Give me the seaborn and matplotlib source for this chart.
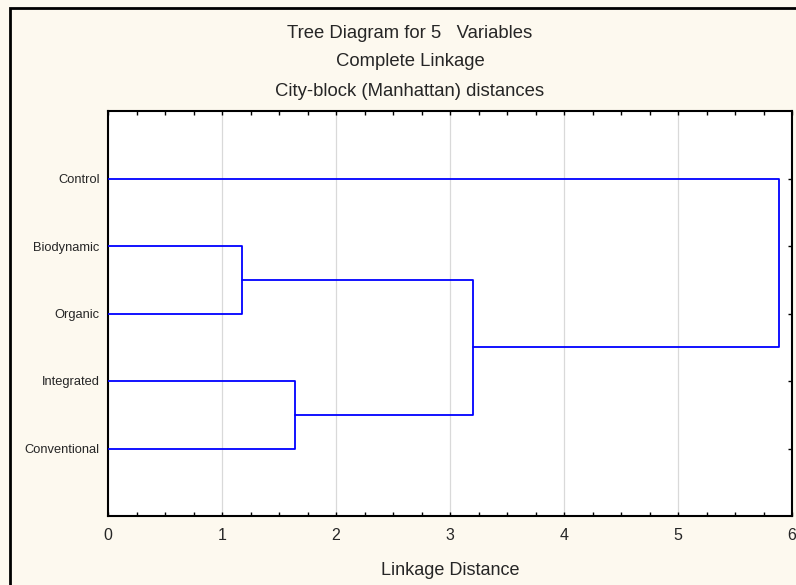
import matplotlib
matplotlib.use("Agg")
import matplotlib.pyplot as plt
import matplotlib.patches as mpatches
import numpy as np
import pandas as pd
import seaborn as sns

# ---- data ----
leaves = ["Control", "Biodynamic", "Organic", "Integrated", "Conventional"]
# merges: (left member, right member, linkage distance); new clusters named "C1", "C2", ...
merge_left = ["Biodynamic", "Integrated", "C1", "Control"]
merge_right = ["Organic", "Conventional", "C2", "C3"]
merge_dist = [1.175, 1.637, 3.20, 5.885]
x_ticks = [0, 1, 2, 3, 4, 5, 6]

sns.set_theme(style="white")
plt.rcParams['font.family'] = 'sans-serif'
plt.rcParams['font.sans-serif'] = ['Liberation Sans', 'DejaVu Sans']

bg = "#FDF9EF"
fig = plt.figure(figsize=(7.96, 5.85), dpi=100, facecolor=bg)
ax = fig.add_axes([108 / 796, 1 - 516 / 585, 684 / 796, 405 / 585])
ax.set_facecolor("white")

# build dendrogram segments from merges
pos = {name: i + 1 for i, name in enumerate(leaves)}
height = {name: 0.0 for name in leaves}
rows = []
seg = 0
for k, (a, b, d) in enumerate(zip(merge_left, merge_right, merge_dist)):
    ya, yb = pos[a], pos[b]
    pts = [(height[a], ya), (d, ya), (d, yb), (height[b], yb)]
    for (x, y) in pts:
        rows.append({"x": x, "y": y, "seg": seg})
    seg += 1
    name = f"C{k + 1}"
    pos[name] = (ya + yb) / 2
    height[name] = d
df = pd.DataFrame(rows)

for xv in x_ticks[1:-1]:
    ax.axvline(xv, color="#D9D9D9", lw=0.9, zorder=0)

sns.lineplot(data=df, x="x", y="y", units="seg", estimator=None, sort=False,
             color="#0000FF", lw=1.3, ax=ax, legend=False, zorder=3)

ax.set_xlim(0, 6)
ax.set_ylim(6, 0)
ax.set_xticks(x_ticks)
ax.set_xticklabels([str(t) for t in x_ticks], fontsize=11.5)
ax.set_xticks(np.arange(0, 6.01, 0.25), minor=True)
ax.set_yticks(range(1, len(leaves) + 1))
ax.set_yticklabels(leaves, fontsize=9.3)
ax.tick_params(axis="x", which="both", direction="in", top=True, bottom=True,
               length=3, width=1, color="black", pad=9)
ax.tick_params(axis="y", which="both", direction="in", left=False, right=True,
               length=3, width=1, color="black", pad=6)
for s in ax.spines.values():
    s.set_visible(True)
    s.set_color("black")
    s.set_linewidth(1.5)

ax.set_xlabel("Linkage Distance", fontsize=13, labelpad=13)
ax.set_ylabel("")

tx = 410 / 796
fig.text(tx, 1 - 34 / 585, "Tree Diagram for 5   Variables",
         ha="center", va="center", fontsize=13.3)
fig.text(tx, 1 - 62 / 585, "Complete Linkage",
         ha="center", va="center", fontsize=13.3)
fig.text(tx, 1 - 91 / 585, "City-block (Manhattan) distances",
         ha="center", va="center", fontsize=13.3)

# outer frame
fig.patches.append(mpatches.Rectangle((10 / 796, -0.1), 1.0, 1.1 - 8 / 585,
                                      transform=fig.transFigure, fill=False,
                                      edgecolor="black", lw=2, zorder=10))

fig.savefig("out.png", dpi=100, facecolor=bg)
